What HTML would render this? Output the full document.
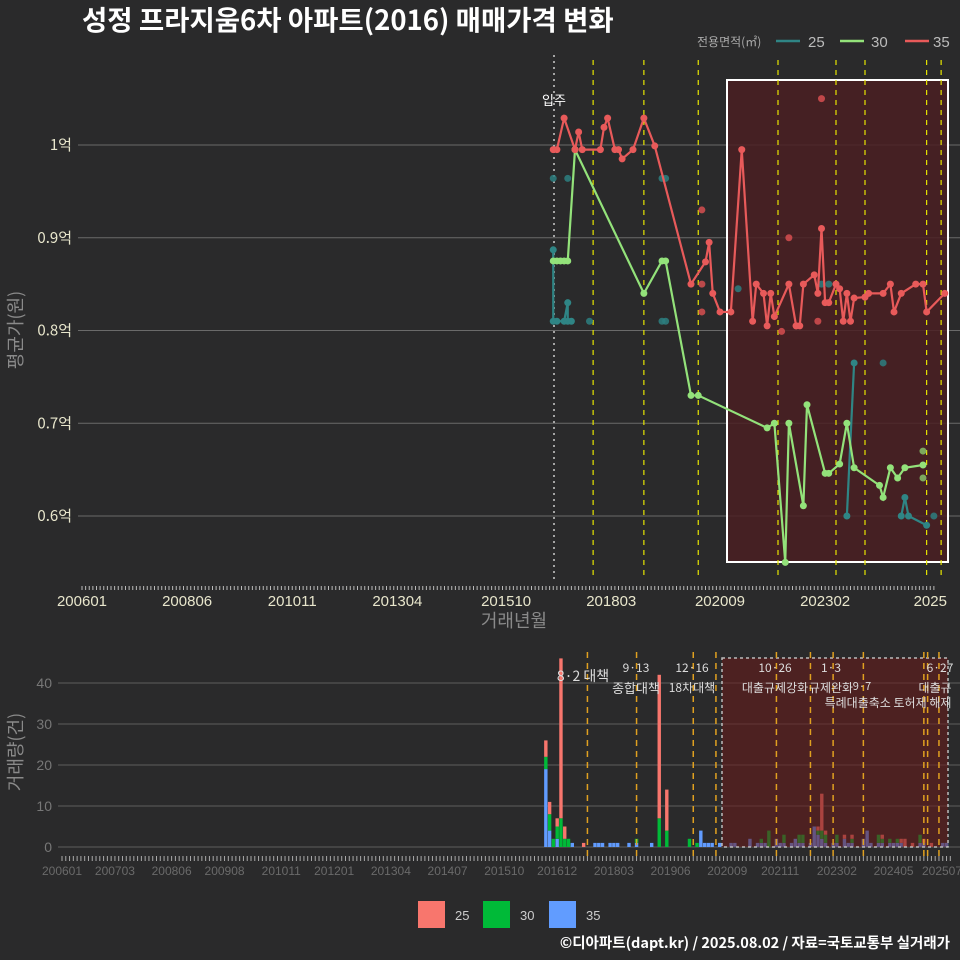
<!DOCTYPE html>
<html><head><meta charset="utf-8">
<style>
body{margin:0;background:#2a2a2b;}
svg{display:block;font-family:"Liberation Sans","Noto Sans CJK KR",sans-serif;}
</style></head>
<body>
<svg id="c" width="960" height="960" viewBox="0 0 960 960">
<rect width="960" height="960" fill="#2a2a2b"/>
<text x="82" y="30" fill="#fff" font-size="27.5" font-weight="bold" font-family="'Noto Sans CJK KR',sans-serif">성정 프라지움6차 아파트(2016) 매매가격 변화</text>
<g id="topPanel"></g>
<g id="botPanel"></g>
<g>
<text x="697" y="46" fill="#aaa" font-size="12" font-family="'Noto Sans CJK KR',sans-serif">전용면적(㎡)</text>
<line x1="776" y1="41" x2="800" y2="41" stroke="#2f8585" stroke-width="2.5"/>
<text x="808" y="47" fill="#bbb" font-size="15">25</text>
<line x1="840" y1="41" x2="864" y2="41" stroke="#93e27a" stroke-width="2.5"/>
<text x="871" y="47" fill="#bbb" font-size="15">30</text>
<line x1="905" y1="41" x2="929" y2="41" stroke="#e85a5a" stroke-width="2.5"/>
<text x="933" y="47" fill="#bbb" font-size="15">35</text>
</g>
<g>
<rect x="418" y="901" width="27" height="27" fill="#f8766d"/>
<text x="455" y="920" fill="#ccc" font-size="13">25</text>
<rect x="483" y="901" width="27" height="27" fill="#00ba38"/>
<text x="520" y="920" fill="#ccc" font-size="13">30</text>
<rect x="549" y="901" width="27" height="27" fill="#619cff"/>
<text x="586" y="920" fill="#ccc" font-size="13">35</text>
</g>
<text x="950" y="948" text-anchor="end" fill="#fff" font-size="14.5" font-weight="bold" font-family="'Noto Sans CJK KR',sans-serif">©디아파트(dapt.kr) / 2025.08.02 / 자료=국토교통부 실거래가</text>
</svg>
<script>
// ---- price data (만원) ----
const redMonths=["201611","201612","201702","201705","201706","201707","201712","201801","201802","201804","201805","201806","201809","201812","201903","202001","202005","202006","202007","202009","202012","202103","202106","202107","202109","202110","202111","202112","202204","202206","202207","202208","202211","202212","202301","202302","202303","202305","202306","202307","202308","202309","202310","202401","202402","202406","202408","202409","202411","202503","202505","202506","202511"];
const redValues=[9950,9950,10290,9950,10140,9950,9950,10190,10290,9950,9950,9850,9950,10290,9990,8500,8740,8950,8400,8200,8200,9950,8100,8500,8400,8050,8400,8150,8500,8050,8050,8500,8600,8400,9100,8300,8300,8500,8450,8100,8400,8100,8350,8360,8400,8400,8500,8200,8400,8500,8500,8200,8400];
const redDotMonths=["202004","202004","202004","202204","202202","202206","202212","202301"];
const redDotValues=[9300,8500,8200,9000,7990,8050,8100,10500];
const greenMonths=["201611","201612","201701","201702","201703","201705","201812","201905","201906","202001","202003","202110","202112","202203","202204","202208","202209","202302","202303","202306","202308","202310","202405","202406","202408","202410","202412","202505"];
const greenValues=[8750,8750,8750,8750,8750,9950,8400,8750,8750,7300,7300,6950,7000,5500,7000,6110,7200,6460,6460,6560,7000,6520,6330,6200,6520,6410,6520,6550];
const greenDotMonths=["202505","202505"];
const greenDotValues=[6700,6410];
const tealMonths=["201611","201611","201612","201702","201703","201703","201704"];
const tealValues=[8870,8100,8100,8100,8300,8100,8100];
const tealMonths2=["202308","202310"];
const tealValues2=[6000,7650];
const tealMonths3=["202411","202412","202501","202506"];
const tealValues3=[6000,6200,6000,5900];
const tealDotMonths=["201611","201703","201709","201905","201906","201905","201906","202102","202301","202303","202406","202508"];
const tealDotValues=[9640,9640,8100,9640,9640,8100,8100,8450,8500,8500,7650,6000];
const priceTicks=[10000,9000,8000,7000,6000];
const priceTickLabels=["1억","0.9억","0.8억","0.7억","0.6억"];
const topXLabels=["200601","200806","201011","201304","201510","201803","202009","202302","202507"];
const topXText=["200601","200806","201011","201304","201510","201803","202009","202302","2025"];
const topVlines=["201710","201812","202003","202201","202305","202401","202506","202510"];
// ---- volume data ----
const volMonths=["201609","201610","201611","201612","201701","201702","201703","201704","201707","201710","201711","201712","201802","201803","201804","201807","201809","201901","201903","201905","201911","202001","202002","202003","202004","202005","202007","202010","202011","202103","202105","202106","202107","202108","202110","202111","202112","202202","202203","202204","202205","202207","202208","202209","202210","202211","202301","202302","202304","202305","202306","202309","202310","202311","202401","202402","202404","202405","202406","202407","202408","202410","202412","202501","202503","202506","202507"];
const vol25=[4,3,0,2,39,3,0,0,1,0,0,0,0,0,0,0,0,0,35,10,0,0,0,0,0,0,0,0,0,0,0,0,0,0,0,0,0,0,0,0,0,0,0,1,9,1,0,0,1,0,1,0,0,0,0,1,0,0,0,1,2,1,0,1,1,0,0];
const vol30=[3,4,2,3,7,2,2,0,0,0,0,0,0,0,0,0,1,0,7,4,2,1,0,0,0,0,0,0,0,0,0,1,0,4,0,0,2,0,0,2,2,0,0,1,2,2,0,2,0,0,1,0,0,0,2,1,1,0,1,0,0,0,2,0,0,0,0];
const vol35=[19,4,0,2,0,0,0,1,0,1,1,1,1,1,1,1,1,1,0,0,0,0,4,1,1,1,1,1,1,2,1,1,1,0,2,1,1,1,2,1,1,1,5,3,2,1,1,1,2,1,1,2,4,1,1,1,1,1,1,1,0,0,1,1,0,1,1];
const volTicks=[0,10,20,30,40];
const botXLabels=["200601","200703","200806","200908","201011","201201","201304","201407","201510","201612","201803","201906","202009","202111","202302","202405","202507"];
const botVlines=["201708","201809","201912","202006","202110","202207","202301","202309","202501","202502","202505"];
const policyLabels=[["8·2 대책",583,681,14],["9·13",636,672,12],["종합대책",636,693,13],["12·16",692,672,12],["18차대책",692,692,12],["10·26",775,672,12],["대출규제강화",775,692,12],["1·3",831,672,12],["규제완화",831,692,12],["9·7",862,690,11],["특례대출축소 토허제 해제",888,707,12],["6·27",940,672,12],["대출규",935,692,12]];

const NS="http://www.w3.org/2000/svg";
function mk(p,t,a){const el=document.createElementNS(NS,t);for(const k in a)el.setAttribute(k,a[k]);p.appendChild(el);return el;}
function mi(s){return (parseInt(s.slice(0,4))-2006)*12+parseInt(s.slice(4,6))-1;}
const tx=s=>82+mi(s)*3.625;
const ty=v=>145+(10000-v)*0.09275;
const bx=s=>62+mi(s)*3.78;
const by=v=>847-v*4.1;

const topG=document.getElementById('topPanel');
let el;
priceTicks.forEach((v,i)=>{
 el=mk(topG,'line',{x1:78,x2:960,y1:ty(v),y2:ty(v),stroke:'#6a6a6a','stroke-width':1});
 
 
 el=mk(topG,'text',{x:72,y:ty(v)+5,'text-anchor':'end',fill:'#e8e6cc','font-size':15,'font-family':"'Noto Sans CJK KR',sans-serif"});
 el.textContent=priceTickLabels[i];
 
 
});
el=mk(topG,'rect',{x:727,y:80,width:221,height:482,fill:'#4a1f22','fill-opacity':0.85,stroke:'#fff','stroke-width':2});


el=mk(topG,'line',{x1:554,x2:554,y1:55,y2:580,stroke:'#ccc','stroke-dasharray':'2,4','stroke-width':1.5});


el=mk(topG,'text',{x:554,y:105,'text-anchor':'middle',fill:'#fff','font-size':13,'font-family':"'Noto Sans CJK KR',sans-serif"});
el.textContent='입주';


topVlines.forEach(s=>{
 el=mk(topG,'line',{x1:tx(s),x2:tx(s),y1:60,y2:580,stroke:'#e6e600','stroke-dasharray':'5,5','stroke-width':1.2});
 
 
});
function series(ms,vs,col,name){
 const pts=ms.map((m,i)=>tx(m)+','+ty(vs[i])).join(' ');
 el=mk(topG,'polyline',{points:pts,fill:'none',stroke:col,'stroke-width':2.2});
 
 
 ms.forEach((m,i)=>{el=mk(topG,'circle',{cx:tx(m),cy:ty(vs[i]),r:3.5,fill:col});
  
  });
}
function dots(ms,vs,col,name){
 ms.forEach((m,i)=>{el=mk(topG,'circle',{cx:tx(m),cy:ty(vs[i]),r:3.5,fill:col,'fill-opacity':0.85});
  
  });
}
dots(tealDotMonths,tealDotValues,'#2d7f80','area25-dot');
dots(redDotMonths,redDotValues,'#d64f50','area35-dot');
dots(greenDotMonths,greenDotValues,'#86c268','area30-dot');
series(tealMonths,tealValues,'#2f8585','area25');
series(tealMonths2,tealValues2,'#2f8585','area25');
series(tealMonths3,tealValues3,'#2f8585','area25');
series(greenMonths,greenValues,'#93e27a','area30');
series(redMonths,redValues,'#e85a5a','area35');
for(let m=0;m<236;m++){el=mk(topG,'line',{x1:82+m*3.625,x2:82+m*3.625,y1:586,y2:590,stroke:'#bbb','stroke-width':1});
 
 }
topXLabels.forEach((s,i)=>{el=mk(topG,'text',{x:Math.min(tx(s),940),y:606,'text-anchor':'middle',fill:'#e8e6cc','font-size':15});
 el.textContent=topXText[i];
 
 });
el=mk(topG,'text',{x:514,y:627,'text-anchor':'middle',fill:'#8a8a8a','font-size':18,'font-family':"'Noto Sans CJK KR',sans-serif"});
el.textContent='거래년월';


el=mk(topG,'text',{x:22,y:330,'text-anchor':'middle',fill:'#8a8a8a','font-size':18,transform:'rotate(-90 22 330)','font-family':"'Noto Sans CJK KR',sans-serif"});
el.textContent='평균가(원)';



const botG=document.getElementById('botPanel');
volTicks.forEach(v=>{
 el=mk(botG,'line',{x1:58,x2:960,y1:by(v),y2:by(v),stroke:'#5e5e5e','stroke-width':1});
 
 
 el=mk(botG,'text',{x:52,y:by(v)+5,'text-anchor':'end',fill:'#777','font-size':14});
 el.textContent=v;
 
 
});
volMonths.forEach((s,i)=>{
 const x=bx(s)-1.7;let base=0;
 [[vol35[i],'#619cff','bar-35'],[vol30[i],'#00ba38','bar-30'],[vol25[i],'#f8766d','bar-25']].forEach(([v,c,n])=>{
  if(v>0){el=mk(botG,'rect',{x:x,y:by(base+v),width:3.4,height:v*4.1,fill:c});
   
   }
  base+=v;});
});
el=mk(botG,'rect',{x:722,y:658,width:226,height:189,fill:'#6a1a1a','fill-opacity':0.55,stroke:'#bbb','stroke-width':1.5,'stroke-dasharray':'3,3'});


botVlines.forEach(s=>{
 el=mk(botG,'line',{x1:bx(s),x2:bx(s),y1:652,y2:858,stroke:'#e0a020','stroke-dasharray':'6,5','stroke-width':1.5});
 
 
});
policyLabels.forEach(([t,x,y,f])=>{
 el=mk(botG,'text',{x:x,y:y,'text-anchor':'middle',fill:'#ddd','font-size':f,'font-family':"'Noto Sans CJK KR',sans-serif"});
 el.textContent=t;
 
 
});
for(let m=0;m<236;m++){el=mk(botG,'line',{x1:62+m*3.78,x2:62+m*3.78,y1:856,y2:861,stroke:'#aaa','stroke-width':1});
 
 }
botXLabels.forEach(s=>{el=mk(botG,'text',{x:Math.min(bx(s),942),y:875,'text-anchor':'middle',fill:'#6a6a6a','font-size':12});
 el.textContent=s;
 
 });
el=mk(botG,'text',{x:22,y:752,'text-anchor':'middle',fill:'#8a8a8a','font-size':18,transform:'rotate(-90 22 752)','font-family':"'Noto Sans CJK KR',sans-serif"});
el.textContent='거래량(건)';


</script>
</body></html>
